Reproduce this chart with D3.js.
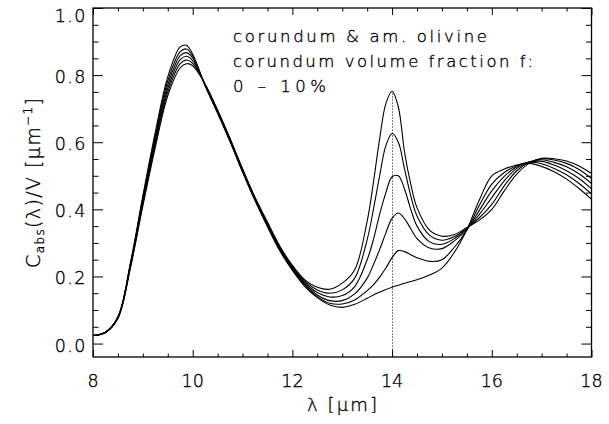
<!DOCTYPE html>
<html>
<head>
<meta charset="utf-8">
<script src="https://cdn.jsdelivr.net/npm/d3@7"></script>
<style>
  body { margin: 0; background: #fff; }
  text { font-family: "DejaVu Sans", sans-serif; font-weight: 200; fill: #000; stroke: #000; stroke-width: 0.35px; }
</style>
</head>
<body>
<div id="chart-area"></div>
<script>
// wavelength grid (micron)
var wl = [8, 8.25, 8.5, 8.75, 9, 9.25, 9.5, 9.75, 9.875, 10, 10.25, 10.5, 10.75, 11, 11.25, 11.5, 11.75,
  12, 12.25, 12.5, 12.75, 13, 13.25, 13.5, 13.625, 13.75, 13.875, 14, 14.125, 14.25, 14.375, 14.5,
  14.75, 15, 15.25, 15.5, 15.75, 16, 16.25, 16.5, 16.75, 17, 17.25, 17.5, 17.75, 18];

// C_abs/V for corundum volume fraction f = 0, 2, 4, 6, 8, 10 %
var f0 = [0.024, 0.034, 0.080, 0.240, 0.440, 0.630, 0.795, 0.884, 0.889, 0.862, 0.768, 0.686, 0.601, 0.511, 0.426, 0.348, 0.276,
  0.218, 0.170, 0.137, 0.115, 0.108, 0.117, 0.135, 0.145, 0.153, 0.161, 0.168, 0.174, 0.180, 0.185, 0.190,
  0.204, 0.225, 0.272, 0.340, 0.428, 0.500, 0.520, 0.532, 0.537, 0.528, 0.512, 0.490, 0.462, 0.430];
var f2 = [0.024, 0.034, 0.079, 0.237, 0.434, 0.621, 0.783, 0.870, 0.878, 0.857, 0.769, 0.688, 0.603, 0.513, 0.428, 0.350, 0.278,
  0.221, 0.174, 0.140, 0.120, 0.118, 0.130, 0.158, 0.175, 0.198, 0.225, 0.256, 0.277, 0.274, 0.265, 0.256,
  0.245, 0.250, 0.287, 0.338, 0.412, 0.475, 0.510, 0.530, 0.540, 0.536, 0.522, 0.503, 0.477, 0.446];
var f4 = [0.024, 0.034, 0.078, 0.234, 0.428, 0.612, 0.771, 0.858, 0.867, 0.851, 0.770, 0.690, 0.605, 0.515, 0.430, 0.353, 0.281,
  0.224, 0.178, 0.145, 0.128, 0.128, 0.148, 0.195, 0.235, 0.280, 0.330, 0.373, 0.389, 0.372, 0.342, 0.313,
  0.285, 0.283, 0.306, 0.340, 0.397, 0.455, 0.498, 0.527, 0.541, 0.543, 0.532, 0.515, 0.492, 0.461];
var f6 = [0.024, 0.033, 0.077, 0.231, 0.422, 0.603, 0.760, 0.846, 0.856, 0.843, 0.771, 0.692, 0.607, 0.517, 0.432, 0.356, 0.284,
  0.227, 0.182, 0.152, 0.139, 0.143, 0.170, 0.250, 0.310, 0.385, 0.450, 0.497, 0.500, 0.460, 0.400, 0.350,
  0.303, 0.296, 0.313, 0.342, 0.385, 0.435, 0.485, 0.522, 0.541, 0.548, 0.540, 0.527, 0.506, 0.477];
var f8 = [0.024, 0.033, 0.076, 0.228, 0.416, 0.594, 0.749, 0.834, 0.845, 0.835, 0.772, 0.694, 0.609, 0.519, 0.434, 0.359, 0.287,
  0.230, 0.186, 0.160, 0.150, 0.160, 0.195, 0.310, 0.400, 0.500, 0.590, 0.626, 0.600, 0.520, 0.440, 0.380,
  0.323, 0.308, 0.319, 0.344, 0.375, 0.415, 0.470, 0.515, 0.540, 0.551, 0.547, 0.537, 0.519, 0.492];
var f10 = [0.024, 0.033, 0.075, 0.225, 0.410, 0.585, 0.738, 0.822, 0.834, 0.828, 0.773, 0.696, 0.611, 0.521, 0.436, 0.362, 0.290,
  0.233, 0.190, 0.168, 0.162, 0.180, 0.220, 0.365, 0.480, 0.610, 0.715, 0.752, 0.705, 0.570, 0.475, 0.405,
  0.338, 0.320, 0.325, 0.346, 0.368, 0.400, 0.455, 0.505, 0.537, 0.552, 0.551, 0.544, 0.529, 0.507];

var series = [f0, f2, f4, f6, f8, f10];

var xTicks = [8, 10, 12, 14, 16, 18];
var yTicks = [0.0, 0.2, 0.4, 0.6, 0.8, 1.0];
var notes = ["corundum & am. olivine", "corundum volume fraction f:", "0 \u2013 10%"];
var markLine = 14;
var markTop = 0.745;

var W = 609, H = 424;
var margin = {top: 8, right: 17.5, bottom: 67, left: 93};
var w = W - margin.left - margin.right;
var h = H - margin.top - margin.bottom;

var svg = d3.select("#chart-area").append("svg")
  .attr("width", W)
  .attr("height", H);

var g = svg.append("g")
  .attr("transform", "translate(" + margin.left + "," + margin.top + ")");

var x = d3.scaleLinear().domain([8, 18]).range([0, w]);
var y = d3.scaleLinear().domain([-0.04, 1.0]).range([h, 0]);

g.append("clipPath").attr("id", "clip")
  .append("rect").attr("width", w).attr("height", h);

// curves
var line = d3.line()
  .x(function(d, i) { return x(wl[i]); })
  .y(function(d) { return y(d); })
  .curve(d3.curveCatmullRom.alpha(0.5));

g.append("g").attr("clip-path", "url(#clip)")
  .selectAll("path")
  .data(series)
  .enter().append("path")
  .attr("d", line)
  .attr("fill", "none")
  .attr("stroke", "#000")
  .attr("stroke-width", 1.1);

// dotted marker at 14 micron, snapped to the pixel grid so it stays crisp
var mx = Math.floor(x(markLine) + margin.left) + 0.5 - margin.left;
g.append("line")
  .attr("x1", mx).attr("x2", mx)
  .attr("y1", y(markTop)).attr("y2", h)
  .attr("stroke", "#000")
  .attr("stroke-width", 1)
  .attr("stroke-dasharray", "1,2");

// axes: ticks inward on all four sides
var xMinor = d3.range(8, 18.001, 0.5);
var yMinor = d3.range(0, 1.0001, 0.05);

function isMajor(v, step) { return Math.abs(v / step - Math.round(v / step)) < 1e-6; }

var axB = d3.axisBottom(x).tickValues(xMinor).tickSizeOuter(0).tickFormat("");
var axL = d3.axisLeft(y).tickValues(yMinor).tickSizeOuter(0).tickFormat("");

g.append("g").attr("transform", "translate(0," + h + ")").call(axB)
  .selectAll(".tick line").attr("y2", function(d) { return isMajor(d, 2) ? -7 : -3.5; });
g.append("g").call(axB)
  .selectAll(".tick line").attr("y2", function(d) { return isMajor(d, 2) ? 7 : 3.5; });
g.append("g").call(axL)
  .selectAll(".tick line").attr("x2", function(d) { return isMajor(d, 0.2) ? 10 : 5.5; });
g.append("g").attr("transform", "translate(" + w + ",0)").call(axL)
  .selectAll(".tick line").attr("x2", function(d) { return isMajor(d, 0.2) ? -10 : -5.5; });

g.selectAll(".domain").remove();
g.selectAll(".tick line").attr("stroke", "#000").attr("stroke-width", 1);

g.append("rect")
  .attr("width", w).attr("height", h)
  .attr("fill", "none")
  .attr("stroke", "#000")
  .attr("stroke-width", 1.3);

// tick labels
g.selectAll(".xlab")
  .data(xTicks)
  .enter().append("text")
  .attr("class", "xlab")
  .attr("x", function(d) { return x(d); })
  .attr("y", h + 30)
  .attr("text-anchor", "middle")
  .style("font-size", "17.5px")
  .text(function(d) { return d; });

g.selectAll(".ylab")
  .data(yTicks)
  .enter().append("text")
  .attr("class", "ylab")
  .attr("x", -6)
  .attr("y", function(d) { return Math.max(y(d) + 8, 14); })
  .attr("text-anchor", "end")
  .style("font-size", "17.5px")
  .style("letter-spacing", "1.5px")
  .text(function(d) { return d.toFixed(1); });

// annotation
g.selectAll(".note")
  .data(notes)
  .enter().append("text")
  .attr("class", "note")
  .attr("x", 140)
  .attr("y", function(d, i) { return 34 + i * 25; })
  .attr("textLength", function(d, i) { return [254, 300, 93][i]; })
  .attr("lengthAdjust", "spacing")
  .style("font-size", "16.5px")
  .text(function(d) { return d; });

// axis titles
svg.append("text")
  .attr("x", 342).attr("y", 411)
  .attr("text-anchor", "middle")
  .attr("textLength", 70)
  .style("font-size", "18px")
  .text("\u03bb [\u03bcm]");

var yt = svg.append("text")
  .attr("transform", "translate(40,183) rotate(-90)")
  .attr("text-anchor", "middle")
  .attr("textLength", 170)
  .attr("lengthAdjust", "spacing")
  .style("font-size", "19px");
yt.append("tspan").text("C");
yt.append("tspan").attr("dy", 4).style("font-size", "12px").text("abs");
yt.append("tspan").attr("dy", -4).text("(\u03bb)/V [\u03bcm");
yt.append("tspan").attr("dy", -8).style("font-size", "12px").text("\u22121");
yt.append("tspan").attr("dy", 8).text("]");
</script>
</body>
</html>
